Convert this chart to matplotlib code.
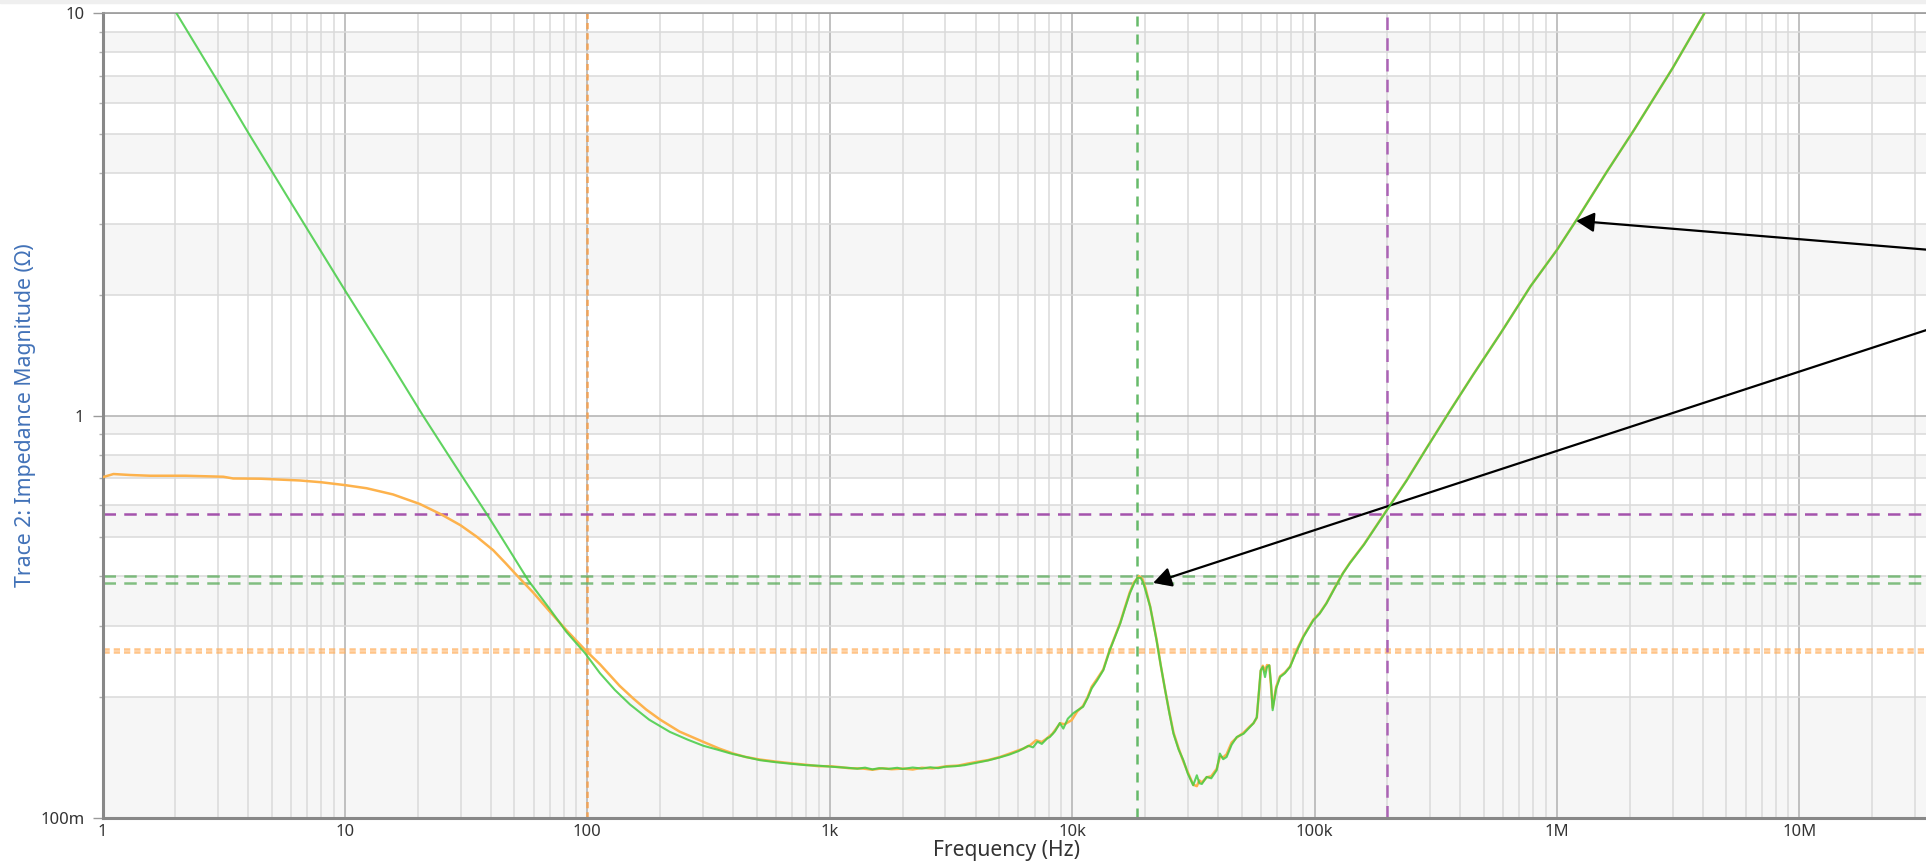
import matplotlib
matplotlib.use("Agg")
import matplotlib.pyplot as plt
from matplotlib.ticker import FixedLocator, NullFormatter, FixedFormatter, LogLocator
from matplotlib.patches import Rectangle

plt.rcParams['font.family'] = ['Noto Sans', 'DejaVu Sans']

# ---------------- data ----------------
green_freq = [2.02, 3.0, 4.0, 6.0, 10, 15, 21, 26.3, 32, 38.6, 46, 57, 70.2, 82, 97.8,
              112.8, 130, 150, 180, 219, 260, 301, 345, 388, 450, 516, 600, 708, 800, 900,
              1000, 1100, 1200, 1300, 1400, 1500, 1600, 1750, 1900, 2000, 2200, 2400, 2600,
              2800, 3000, 3300, 3600, 4000, 4500, 5000, 5500, 6000, 6300, 6600, 6900, 7200,
              7500, 7900, 8100, 8500, 8900, 9200, 9600, 10100, 10500, 11100, 11600, 12050,
              12700, 13450, 14300, 15000, 15800, 16500, 17300, 18000, 18600, 19200, 19700,
              21000, 22300, 23200, 24200, 25200, 26200, 27500, 28800, 30000, 31600, 32700,
              33500, 34300, 35900, 37500, 39500, 40700, 42000, 43400, 45500, 47800, 51000,
              54200, 56000, 57800, 60000, 61200, 62500, 63700, 65100, 66200, 67200, 69500,
              72100, 75500, 79300, 84000, 90000, 98900, 105000, 112000, 121000, 131000,
              140000, 160000, 200000, 240000, 290000, 363000, 450000, 585000, 780000,
              1000000, 1220000, 1600000, 2090000, 3000000, 4060000]
green_z = [10.0, 6.75, 5.04, 3.38, 2.05, 1.39, 1.0, 0.81, 0.675, 0.568, 0.48, 0.39,
           0.330, 0.290, 0.257, 0.229, 0.208, 0.1915, 0.1755, 0.1637, 0.1565, 0.1512, 0.1478,
           0.1448, 0.1418, 0.1392, 0.1376, 0.1362, 0.1353, 0.1349, 0.1342, 0.1337, 0.1332,
           0.1326, 0.1334, 0.1321, 0.1330, 0.1325, 0.1333, 0.1324, 0.1335, 0.1327, 0.1337,
           0.1330, 0.1341, 0.1345, 0.1353, 0.1370, 0.1390, 0.1413, 0.1437, 0.1466, 0.1488,
           0.1512, 0.1498, 0.1548, 0.1528, 0.1578, 0.1590, 0.1642, 0.1722, 0.1668, 0.1765,
           0.1820, 0.1850, 0.1890, 0.1990, 0.2100, 0.2200, 0.2330, 0.2610, 0.2810, 0.3045,
           0.3310, 0.3615, 0.3820, 0.3955, 0.3950, 0.3830, 0.3350, 0.2767, 0.2400, 0.2080,
           0.1820, 0.1620, 0.1480, 0.1390, 0.1290, 0.1206, 0.1277, 0.1220, 0.1215, 0.1265,
           0.1255, 0.1315, 0.1446, 0.1400, 0.1418, 0.1520, 0.1590, 0.1620, 0.1684, 0.1720,
           0.1780, 0.2330, 0.2375, 0.2240, 0.2375, 0.2397, 0.2150, 0.1853, 0.2100, 0.2240,
           0.2290, 0.2375, 0.2580, 0.2820, 0.3100, 0.3220, 0.3415, 0.3720, 0.4055, 0.4300,
           0.4780, 0.5850, 0.6900, 0.8300, 1.0300, 1.2600, 1.6000, 2.1000, 2.5800, 3.1000,
           4.0200, 5.1500, 7.3000, 10.0]

orange_freq = [1.0, 1.11, 1.3, 1.57, 2.2, 3.15, 3.46, 4.5, 6.53, 8.0, 10, 12.3, 15.8, 20.4,
               25, 30, 35, 40.9, 46, 51, 59.9, 70, 82, 97.8, 112.8, 136, 155, 175,
               200, 240, 301, 350, 400, 450, 516, 600, 708, 800, 900, 1000, 1100, 1200,
               1376, 1500, 1650, 1800, 2012, 2200, 2400, 2650, 3040, 3400, 3700, 4036, 4500,
               5041, 5600, 6292, 6700, 7100, 7500, 7855, 8300, 8920, 9300, 9954, 10500, 11100,
               11600, 12050, 12700, 13450, 14300, 15000, 15800, 16500, 17300, 18000, 18900,
               19500, 20100, 21000, 22300, 23200, 24200, 25200, 26200, 27500, 28800, 30000,
               31600, 32700, 33500, 34300, 35900, 37500, 39500, 40700, 42000, 43400, 45500,
               47800, 51000, 54200, 56000, 57800, 60000, 61200, 62500, 63700, 65100, 66200,
               67200, 69500, 72100, 75500, 79300, 84000, 90000, 98900, 105000, 112000,
               121000, 131000, 140000, 160000, 200000, 240000, 290000, 363000, 450000,
               585000, 780000, 1000000, 1220000, 1600000, 2090000, 3000000, 4060000]
orange_z = [0.703, 0.716, 0.712, 0.709, 0.709, 0.705, 0.698, 0.697, 0.690, 0.683, 0.672, 0.660,
            0.637, 0.603, 0.568, 0.534, 0.500, 0.463, 0.430, 0.402, 0.363, 0.326, 0.293,
            0.262, 0.241, 0.213, 0.198, 0.186, 0.1755, 0.1640, 0.1546, 0.1488, 0.1446, 0.1418,
            0.1397, 0.1381, 0.1366, 0.1356, 0.1345, 0.1345, 0.1338, 0.1330, 0.1327, 0.1318,
            0.1329, 0.1322, 0.1327, 0.1320, 0.1333, 0.1328, 0.1345, 0.1350, 0.1365, 0.1378,
            0.1393, 0.1418, 0.1450, 0.1488, 0.1515, 0.1560, 0.1545, 0.1576, 0.1620, 0.1720,
            0.1710, 0.1750, 0.1840, 0.1900, 0.2000, 0.2120, 0.2220, 0.2340, 0.2620, 0.2820,
            0.3060, 0.3330, 0.3640, 0.3850, 0.3990, 0.3930, 0.3720, 0.3350, 0.2780, 0.2400,
            0.2080, 0.1830, 0.1630, 0.1490, 0.1380, 0.1300, 0.1210, 0.1200, 0.1240, 0.1225,
            0.1262, 0.1270, 0.1325, 0.1420, 0.1415, 0.1440, 0.1540, 0.1585, 0.1630, 0.1690,
            0.1720, 0.1775, 0.2320, 0.2390, 0.2320, 0.2400, 0.2390, 0.2120, 0.1880, 0.2120,
            0.2250, 0.2300, 0.2380, 0.2600, 0.2830, 0.3110, 0.3230, 0.3420, 0.3730, 0.4060,
            0.4310, 0.4790, 0.5860, 0.6910, 0.8310, 1.0310, 1.2610, 1.6010, 2.1010, 2.5820,
            3.1020, 4.0230, 5.1520, 7.3050, 10.0]

x_tick_values = [1, 10, 100, 1e3, 1e4, 1e5, 1e6, 1e7]
x_tick_labels = ['1', '10', '100', '1k', '10k', '100k', '1M', '10M']
y_tick_values = [0.1, 1, 10]
y_tick_labels = ['100m', '1', '10']

orange_cursor_x = 100
orange_cursor_y = [0.2625, 0.2580]
green_cursor_x = 18500
green_cursor_y = [0.400, 0.384]
purple_cursor_x = 200000
purple_cursor_y = 0.568

arrow1_head = (1.20e6, 3.05)
arrow2_head = (2.16e4, 0.384)

# ---------------- figure ----------------
W, H = 1926, 866
fig = plt.figure(figsize=(W / 100, H / 100), dpi=100)
fig.patches.append(Rectangle((0, 1 - 3 / H), 1, 3 / H, transform=fig.transFigure,
                             color='#efefef', zorder=0))

ax_left, ax_right, ax_top, ax_bottom = 102.5, W, 13.3, 818
ax = fig.add_axes([ax_left / W, (H - ax_bottom) / H, (ax_right - ax_left) / W,
                   (ax_bottom - ax_top) / H])
ax.set_xscale('log')
ax.set_yscale('log')
decade_px = 242.4
ax.set_xlim(1, 10 ** ((ax_right - ax_left) / decade_px))
ax.set_ylim(0.1, 10)

# alternating background bands between horizontal grid lines
band_edges = [0.1, 0.2, 0.3, 0.4, 0.5, 0.6, 0.7, 0.8, 0.9, 1, 2, 3, 4, 5, 6, 7, 8, 9, 10]
for i in range(len(band_edges) - 1):
    if i % 2 == 0:
        ax.axhspan(band_edges[i], band_edges[i + 1], color='#f6f6f6', lw=0, zorder=0)

ax.set_axisbelow(True)
ax.xaxis.set_major_locator(FixedLocator(x_tick_values))
ax.xaxis.set_major_formatter(FixedFormatter(x_tick_labels))
ax.xaxis.set_minor_locator(LogLocator(base=10, subs=range(2, 10), numticks=20))
ax.xaxis.set_minor_formatter(NullFormatter())
ax.yaxis.set_major_locator(FixedLocator(y_tick_values))
ax.yaxis.set_major_formatter(FixedFormatter(y_tick_labels))
ax.yaxis.set_minor_locator(LogLocator(base=10, subs=range(2, 10), numticks=20))
ax.yaxis.set_minor_formatter(NullFormatter())

ax.grid(which='major', color='#b0b0b0', lw=1.1)
ax.grid(which='minor', color='#dadada', lw=1.1)

ax.tick_params(axis='x', which='both', length=0, pad=4, labelsize=12, labelcolor='#333333')
ax.tick_params(axis='y', which='major', length=7, width=1, color='#9a9a9a', pad=6,
               labelsize=12, labelcolor='#333333')
ax.tick_params(axis='y', which='minor', length=3, width=1, color='#b0b0b0')

for side in ['left', 'bottom']:
    ax.spines[side].set_color('#888888')
    ax.spines[side].set_linewidth(2.2)
ax.spines['top'].set_color('#9a9a9a')
ax.spines['top'].set_linewidth(1.2)
ax.spines['right'].set_visible(False)

# cursors
dot = (0, (2.5, 1.6))
dash = (0, (5, 3.3))
ax.axvline(orange_cursor_x, color='#f5a04e', lw=1.8, ls=dot, alpha=0.9, zorder=2)
for yv in orange_cursor_y:
    ax.axhline(yv, color='#ffb060', lw=1.8, ls=dot, alpha=0.75, zorder=2)
ax.axvline(green_cursor_x, color='#4caf50', lw=1.8, ls=(0, (4, 3.2)), alpha=0.85, zorder=2)
for yv in green_cursor_y:
    ax.axhline(yv, color='#5aac5a', lw=1.8, ls=dash, alpha=0.75, zorder=2)
ax.axvline(purple_cursor_x, color='#a555b0', lw=1.8, ls=dash, alpha=0.9, zorder=2)
ax.axhline(purple_cursor_y, color='#a04aa8', lw=1.8, ls=dash, alpha=0.95, zorder=2)

# traces
ax.plot(orange_freq, orange_z, color='#fdb24c', lw=1.8, zorder=3)
ax.plot(green_freq, green_z, color='#44cc44', lw=1.5, alpha=0.85, zorder=4)

# arrows
arrow_kw = dict(arrowstyle='-|>,head_length=0.55,head_width=0.3', color='black', lw=1.6,
                mutation_scale=20, shrinkA=0, shrinkB=0)
ax.annotate('', xy=arrow1_head, xycoords='data', xytext=(2000, H - 255.7),
            textcoords='figure pixels', arrowprops=arrow_kw, annotation_clip=False)
ax.annotate('', xy=arrow2_head, xycoords='data', xytext=(2000, H - 306),
            textcoords='figure pixels', arrowprops=arrow_kw, annotation_clip=False)

# labels
ax.set_xlabel('Frequency (Hz)', fontsize=15.2, color='#333333')
ax.xaxis.set_label_coords((1006 - ax_left) / (ax_right - ax_left), -(840 - ax_bottom) / (ax_bottom - ax_top))
ax.set_ylabel('Trace 2: Impedance Magnitude (Ω)', fontsize=15.3, color='#4272b8')
ax.yaxis.set_label_coords(-(ax_left - 36) / (ax_right - ax_left), 0.5)

fig.savefig('out.png', dpi=100)
